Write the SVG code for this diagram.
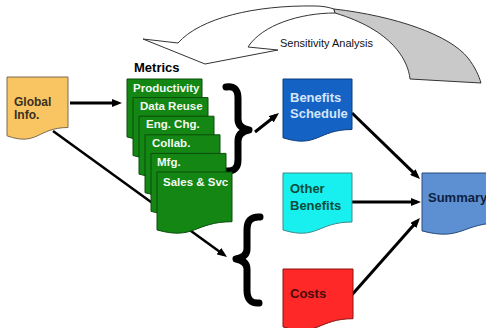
<svg xmlns="http://www.w3.org/2000/svg" width="486" height="328" viewBox="0 0 486 328">
<style>
  text { font-family: "Liberation Sans", Arial, sans-serif; }
  .b { font-weight: bold; }
  .conn { stroke: #000; fill: none; }
  .page { fill: #138613; stroke: #0c4c0c; stroke-width: 1; }
  .ptxt { fill: #f2faf2; font-size: 11.5px; font-weight: bold; }
  .ntxt { font-size: 13px; font-weight: bold; }
  .brace { fill: none; stroke: #000; stroke-width: 7; stroke-linecap: round; stroke-linejoin: round; }
</style>
<defs>
  <marker id="ah" viewBox="0 0 10 8" refX="6" refY="4" markerWidth="10" markerHeight="8" markerUnits="userSpaceOnUse" orient="auto">
    <path d="M0,0 L10,4 L0,8 Z" fill="#000"/>
  </marker>
</defs>
<rect width="486" height="328" fill="#fff"/>

<g id="sensitivity-analysis">
  <path d="M143,39 L178,43 C200,18 255,5 315,6 C322,6 328,7 334,9 L335,13 C300,13 262,25 248,47 L278,50 L205,64 Z" fill="#fff" stroke="#333" stroke-width="1"/>
  <path d="M334,9 C395,16 450,35 468,58 C475,67 479,76 481,83 L410,79 C408,60 392,30 335,13 Z" fill="#c9c9c9" stroke="#333" stroke-width="1"/>
  <text x="280" y="47" font-size="11" fill="#111">Sensitivity Analysis</text>
</g>

<g id="connectors">
  <line class="conn" x1="70" y1="103" x2="118" y2="103" stroke-width="3" marker-end="url(#ah)"/>
  <line class="conn" x1="53" y1="131" x2="223.8" y2="254.7" stroke-width="2.5" marker-end="url(#ah)"/>
  <line class="conn" x1="255" y1="132" x2="275.9" y2="115.5" stroke-width="3" marker-end="url(#ah)"/>
  <line class="conn" x1="352" y1="113" x2="417.1" y2="176.2" stroke-width="3" marker-end="url(#ah)"/>
  <line class="conn" x1="352" y1="202" x2="417" y2="202" stroke-width="3" marker-end="url(#ah)"/>
  <line class="conn" x1="350" y1="297" x2="417.3" y2="221" stroke-width="3" marker-end="url(#ah)"/>
  <path class="brace" d="M226,87 Q238,85 238,98 L238,119 Q238,128 249,130 Q238,132 238,141 L238,160 Q238,172 226,171"/>
  <path class="brace" d="M260,217 Q247,216 247,230 L247,249 Q247,257 236,259 Q247,261 247,269 L247,290 Q247,304 259,303"/>
</g>

<g id="global-info">
  <path d="M7,77 H68 V127.5 C37.5,127.5 37.5,146.7 7,135.8 Z" fill="#f9c563" stroke="#7a6a50" stroke-width="1"/>
  <text x="14" y="106" font-size="12" class="b" fill="#3a3020">Global</text>
  <text x="14" y="119" font-size="12" class="b" fill="#3a3020">Info.</text>
</g>

<g id="metrics">
  <text x="134" y="72" font-size="13" class="b" fill="#000">Metrics</text>
  <g id="productivity">
    <path class="page" d="M127,79 h75 v49.7 C164.5,128.7 164.5,147.6 127,136.9 Z"/>
    <text class="ptxt" x="133" y="92">Productivity</text>
  </g>
  <g id="data-reuse">
    <path class="page" d="M133,97.6 h75 v49.7 C170.5,147.3 170.5,166.2 133,155.5 Z"/>
    <text class="ptxt" x="140" y="110">Data Reuse</text>
  </g>
  <g id="eng-chg">
    <path class="page" d="M139,116.2 h75 v49.7 C176.5,165.9 176.5,184.8 139,174.1 Z"/>
    <text class="ptxt" x="146" y="128">Eng. Chg.</text>
  </g>
  <g id="collab">
    <path class="page" d="M145,134.8 h75 v49.7 C182.5,184.5 182.5,203.4 145,192.7 Z"/>
    <text class="ptxt" x="152" y="147">Collab.</text>
  </g>
  <g id="mfg">
    <path class="page" d="M151,153.4 h75 v49.7 C188.5,203.1 188.5,222 151,211.3 Z"/>
    <text class="ptxt" x="157" y="166">Mfg.</text>
  </g>
  <g id="sales-svc">
    <path class="page" d="M157,172 h75 v49.7 C194.5,221.7 194.5,240.6 157,229.9 Z"/>
    <text class="ptxt" x="163" y="186">Sales &amp; Svc</text>
  </g>
</g>

<g id="benefits-schedule">
  <path d="M283,79 h69 v50.5 C317.5,129.5 317.5,148.7 283,137.8 Z" fill="#1362c4" stroke="#0c3c7c" stroke-width="1"/>
  <text class="ntxt" x="290" y="102" fill="#d6e6fa">Benefits</text>
  <text class="ntxt" x="290" y="118" fill="#d6e6fa">Schedule</text>
</g>

<g id="other-benefits">
  <path d="M283,173 h69 v49 C317.5,222 317.5,240.5 283,230 Z" fill="#18f0f0" stroke="#3a8a8a" stroke-width="1"/>
  <text class="ntxt" x="290" y="193" fill="#0d4d3d">Other</text>
  <text class="ntxt" x="290" y="210" fill="#0d4d3d">Benefits</text>
</g>

<g id="costs">
  <path d="M283,269 h70 v49.7 C318,318.7 318,337.6 283,326.9 Z" fill="#ff2828" stroke="#8a1010" stroke-width="1"/>
  <text class="ntxt" x="290" y="298" fill="#4a0a0a">Costs</text>
</g>

<g id="summary">
  <path d="M422,173 h80 v49.7 C462,222.7 462,241.6 422,230.9 Z" fill="#5c90d2" stroke="#2a4a7a" stroke-width="1"/>
  <text class="ntxt" x="428" y="202" fill="#0d1f40">Summary</text>
</g>
</svg>
